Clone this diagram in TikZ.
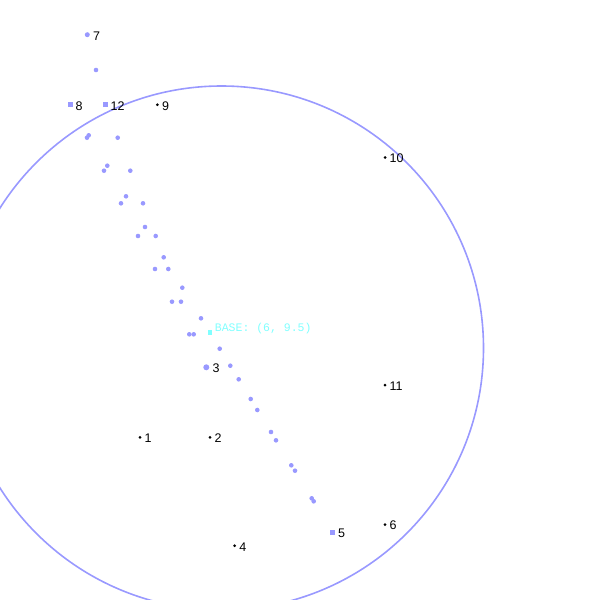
\documentclass[tikz,border=0pt]{standalone}
\usepackage{fontspec}
\setmainfont{Liberation Sans}
\newfontfamily\basefont{Liberation Mono}
\definecolor{trail}{RGB}{153,153,255}
\definecolor{basecol}{RGB}{128,255,255}

\begin{document}
\begin{tikzpicture}[x=1pt,y=-1pt,
  lbl/.style={font=\fontsize{12.5}{14}\selectfont, inner sep=2.8pt, yshift=-1pt},
  blackpt/.style={circle, fill=black, inner sep=0pt, minimum size=3pt},
  trailpt/.style={circle, fill=trail, inner sep=0pt, minimum size=5pt},
  trailsq/.style={rectangle, fill=trail, inner sep=0pt, minimum size=5pt},
  basesq/.style={rectangle, fill=basecol, inner sep=0pt, minimum width=4pt, minimum height=5pt}]
\useasboundingbox (0,0) rectangle (600,600);

% range circle
\node[circle, draw=trail, line width=1.6pt, inner sep=0pt, minimum size=524pt] (range) at (221.5,348) {};

% path dots
\foreach \px/\py in {96/70, 88.7/135.3, 87/137.7, 117.7/137.7, 107.3/165.7, 104/170.7,
  130.3/170.7, 126/196.3, 121/203.3, 143/203.3, 145/227, 138/236, 155.7/236,
  163.7/257.3, 155/269, 168.3/269, 182.3/287.7, 172/301.7, 181/301.7, 201/318.3,
  189.3/334.3, 193.7/334.3, 219.7/348.7, 230.3/365.7, 238.7/379.3, 250.7/399,
  257.3/410, 271/432, 276/440.3, 291.3/465.3, 295/470.7, 311.7/498.3, 313.7/501.3}
  \fill[trail] (\px,\py) circle [radius=2.3pt];

% numbered points
\node[blackpt, label={[lbl]right:1}] (p1) at (140,437.3) {};
\node[blackpt, label={[lbl]right:2}] (p2) at (210,437.3) {};
\node[trailpt, minimum size=6pt, label={[lbl]right:3}] (p3) at (206.3,367.3) {};
\node[blackpt, label={[lbl]right:4}] (p4) at (234.7,545.7) {};
\node[trailsq, label={[lbl]right:5}] (p5) at (332.3,532) {};
\node[blackpt, label={[lbl]right:6}] (p6) at (385,524.5) {};
\node[trailpt, label={[lbl]right:7}] (p7) at (87.3,34.7) {};
\node[trailsq, label={[lbl]right:8}] (p8) at (70,104.7) {};
\node[blackpt, label={[lbl]right:9}] (p9) at (157.3,104.7) {};
\node[blackpt, label={[lbl]right:10}] (p10) at (385,157.5) {};
\node[blackpt, label={[lbl]right:11}] (p11) at (385,385) {};
\node[trailsq, label={[lbl]right:12}] (p12) at (105,104.7) {};

% base
\node[basesq, label={[lbl, text=basecol, font=\basefont\fontsize{11.5}{13}\selectfont, yshift=4pt]right:BASE: (6, 9.5)}] (base) at (209.7,332) {};
\end{tikzpicture}
\end{document}
